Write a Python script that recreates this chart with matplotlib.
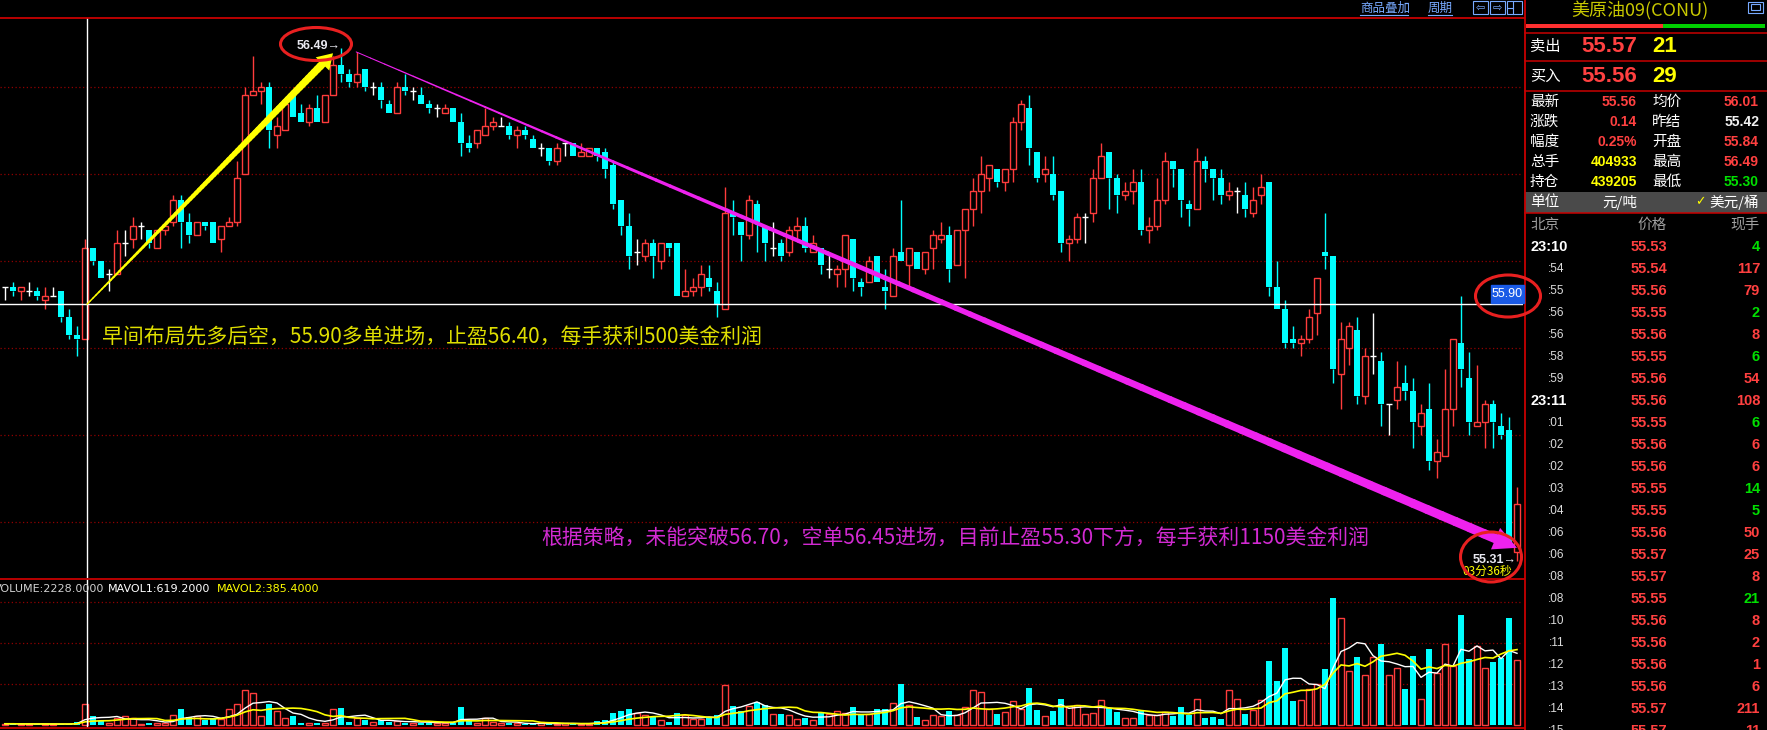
import numpy as np
import pandas as pd
import matplotlib
matplotlib.use('Agg')
import matplotlib.pyplot as plt
from matplotlib.collections import LineCollection
from matplotlib.patches import Ellipse, Rectangle

plt.rcParams['font.family'] = ['Noto Sans CJK SC', 'DejaVu Sans']

# 1分钟K线 (开 高 低 收)
opens = [55.94, 55.94, 55.93, 55.93, 55.93, 55.91, 55.92, 55.93, 55.87, 55.83,
         55.82, 56.03, 56.00, 55.97, 55.97, 56.04, 56.05, 56.08, 56.07, 56.03,
         56.07, 56.09, 56.14, 56.09, 56.06, 56.09, 56.09, 56.05, 56.08, 56.09,
         56.20, 56.38, 56.39, 56.40, 56.29, 56.30, 56.38, 56.34, 56.32, 56.35,
         56.32, 56.38, 56.45, 56.43, 56.41, 56.44, 56.40, 56.40, 56.36, 56.34,
         56.40, 56.39, 56.38, 56.36, 56.35, 56.34, 56.35, 56.32, 56.27, 56.27,
         56.29, 56.31, 56.31, 56.31, 56.29, 56.30, 56.28, 56.26, 56.26, 56.23,
         56.27, 56.27, 56.24, 56.24, 56.26, 56.25, 56.22, 56.14, 56.08, 56.02,
         56.01, 56.04, 56.00, 56.04, 56.04, 55.92, 55.93, 55.94, 55.96, 55.93,
         55.89, 56.11, 56.09, 56.06, 56.13, 56.08, 56.03, 56.04, 56.02, 56.07,
         56.08, 56.02, 56.03, 55.98, 55.97, 55.98, 56.05, 55.95, 55.95, 56.01,
         55.94, 55.92, 56.02, 55.99, 56.02, 55.98, 56.03, 56.05, 56.06, 55.99,
         56.07, 56.12, 56.16, 56.19, 56.21, 56.18, 56.21, 56.32, 56.35, 56.25,
         56.20, 56.20, 56.16, 56.04, 56.05, 56.10, 56.11, 56.19, 56.25, 56.19,
         56.15, 56.16, 56.18, 56.07, 56.08, 56.14, 56.23, 56.21, 56.13, 56.12,
         56.23, 56.21, 56.19, 56.15, 56.16, 56.15, 56.11, 56.15, 56.18, 55.94,
         55.89, 55.82, 55.81, 55.82, 55.88, 56.02, 56.01, 55.74, 55.80, 55.84,
         55.69, 55.78, 55.77, 55.67, 55.68, 55.72, 55.70, 55.62, 55.66, 55.54,
         55.55, 55.66, 55.81, 55.73, 55.62, 55.63, 55.67, 55.62, 55.61, 55.33]
highs = [55.94, 55.95, 55.94, 55.95, 55.94, 55.94, 55.94, 55.93, 55.89, 55.85,
         56.05, 56.03, 56.00, 55.98, 56.07, 56.07, 56.10, 56.09, 56.07, 56.07,
         56.09, 56.15, 56.15, 56.11, 56.09, 56.09, 56.09, 56.08, 56.10, 56.23,
         56.40, 56.47, 56.41, 56.41, 56.33, 56.37, 56.39, 56.36, 56.36, 56.38,
         56.38, 56.47, 56.49, 56.44, 56.48, 56.44, 56.41, 56.41, 56.37, 56.41,
         56.43, 56.40, 56.40, 56.37, 56.36, 56.36, 56.35, 56.34, 56.29, 56.30,
         56.35, 56.33, 56.33, 56.32, 56.31, 56.31, 56.29, 56.27, 56.26, 56.27,
         56.27, 56.27, 56.27, 56.26, 56.26, 56.26, 56.23, 56.14, 56.11, 56.05,
         56.05, 56.05, 56.04, 56.04, 56.04, 55.98, 55.96, 55.99, 55.99, 55.95,
         56.17, 56.14, 56.09, 56.15, 56.14, 56.08, 56.09, 56.05, 56.08, 56.10,
         56.10, 56.06, 56.03, 56.02, 55.99, 56.06, 56.05, 55.96, 56.01, 56.01,
         55.98, 56.03, 56.14, 56.03, 56.02, 56.02, 56.07, 56.09, 56.08, 56.07,
         56.12, 56.19, 56.24, 56.22, 56.21, 56.21, 56.33, 56.37, 56.38, 56.25,
         56.24, 56.24, 56.16, 56.06, 56.11, 56.11, 56.21, 56.27, 56.25, 56.20,
         56.18, 56.21, 56.21, 56.10, 56.19, 56.25, 56.23, 56.21, 56.14, 56.26,
         56.24, 56.21, 56.21, 56.18, 56.17, 56.18, 56.17, 56.20, 56.18, 56.00,
         55.91, 55.85, 55.83, 55.89, 55.96, 56.11, 56.01, 55.86, 55.86, 55.87,
         55.80, 55.88, 55.79, 55.67, 55.77, 55.76, 55.73, 55.67, 55.72, 55.59,
         55.75, 55.82, 55.92, 55.79, 55.76, 55.68, 55.68, 55.65, 55.64, 55.48]
lows = [55.91, 55.92, 55.91, 55.92, 55.91, 55.89, 55.92, 55.86, 55.82, 55.78,
        55.82, 55.99, 55.96, 55.93, 55.97, 56.01, 56.03, 56.05, 56.03, 56.03,
        56.06, 56.08, 56.03, 56.04, 56.06, 56.07, 56.04, 56.02, 56.08, 56.08,
        56.20, 56.38, 56.36, 56.26, 56.26, 56.30, 56.33, 56.32, 56.31, 56.32,
        56.32, 56.38, 56.41, 56.40, 56.40, 56.39, 56.38, 56.35, 56.34, 56.34,
        56.38, 56.37, 56.36, 56.34, 56.33, 56.34, 56.32, 56.24, 56.25, 56.26,
        56.29, 56.30, 56.31, 56.28, 56.26, 56.28, 56.26, 56.24, 56.22, 56.22,
        56.24, 56.24, 56.24, 56.24, 56.23, 56.19, 56.12, 56.06, 55.98, 55.99,
        56.00, 55.96, 55.98, 56.01, 55.92, 55.92, 55.92, 55.92, 55.93, 55.87,
        55.89, 56.06, 56.00, 56.05, 56.02, 56.00, 56.01, 56.00, 56.01, 56.05,
        56.02, 56.02, 55.97, 55.96, 55.94, 55.94, 55.93, 55.92, 55.95, 55.95,
        55.89, 55.92, 56.00, 55.94, 55.98, 55.97, 55.98, 56.04, 55.95, 55.99,
        55.96, 56.08, 56.11, 56.16, 56.17, 56.16, 56.18, 56.30, 56.22, 56.18,
        56.18, 56.14, 56.02, 56.00, 56.04, 56.04, 56.09, 56.19, 56.12, 56.11,
        56.14, 56.13, 56.06, 56.04, 56.07, 56.13, 56.17, 56.10, 56.08, 56.12,
        56.18, 56.14, 56.13, 56.14, 56.11, 56.10, 56.10, 56.13, 55.92, 55.89,
        55.80, 55.80, 55.78, 55.81, 55.83, 55.98, 55.72, 55.66, 55.76, 55.67,
        55.67, 55.74, 55.62, 55.60, 55.66, 55.68, 55.57, 55.60, 55.52, 55.50,
        55.55, 55.62, 55.71, 55.60, 55.62, 55.57, 55.57, 55.59, 55.34, 55.31]
closes = [55.94, 55.93, 55.94, 55.93, 55.92, 55.92, 55.92, 55.87, 55.83, 55.82,
          56.03, 56.00, 55.96, 55.97, 56.04, 56.04, 56.08, 56.08, 56.04, 56.07,
          56.08, 56.14, 56.09, 56.06, 56.09, 56.08, 56.04, 56.08, 56.09, 56.19,
          56.38, 56.39, 56.40, 56.30, 56.31, 56.36, 56.33, 56.32, 56.35, 56.32,
          56.38, 56.45, 56.43, 56.41, 56.43, 56.40, 56.40, 56.37, 56.34, 56.40,
          56.39, 56.39, 56.36, 56.35, 56.35, 56.35, 56.32, 56.27, 56.26, 56.30,
          56.31, 56.32, 56.31, 56.29, 56.30, 56.29, 56.26, 56.26, 56.23, 56.26,
          56.27, 56.24, 56.25, 56.26, 56.24, 56.21, 56.13, 56.08, 56.01, 56.02,
          56.04, 56.01, 56.04, 56.03, 55.92, 55.93, 55.94, 55.97, 55.94, 55.90,
          56.11, 56.10, 56.06, 56.14, 56.09, 56.04, 56.03, 56.01, 56.07, 56.08,
          56.03, 56.04, 55.99, 55.98, 55.98, 56.06, 55.96, 55.94, 56.00, 55.95,
          55.93, 56.01, 56.00, 56.03, 55.98, 56.02, 56.06, 56.06, 55.98, 56.07,
          56.12, 56.16, 56.20, 56.22, 56.18, 56.21, 56.32, 56.36, 56.26, 56.19,
          56.21, 56.15, 56.04, 56.05, 56.10, 56.10, 56.19, 56.24, 56.19, 56.15,
          56.16, 56.18, 56.07, 56.08, 56.14, 56.23, 56.21, 56.14, 56.12, 56.23,
          56.21, 56.19, 56.15, 56.16, 56.16, 56.12, 56.14, 56.17, 55.94, 55.89,
          55.81, 55.81, 55.82, 55.87, 55.96, 56.01, 55.75, 55.82, 55.85, 55.69,
          55.78, 55.78, 55.67, 55.67, 55.71, 55.70, 55.63, 55.65, 55.54, 55.56,
          55.66, 55.82, 55.75, 55.63, 55.63, 55.67, 55.63, 55.60, 55.34, 55.44]
volumes = [30, 30, 20, 30, 20, 20, 20, 20, 30, 80,
           500, 210, 90, 60, 180, 210, 180, 20, 60, 50,
           50, 240, 380, 200, 210, 110, 160, 140, 390, 510,
           850, 770, 220, 510, 340, 180, 210, 60, 60, 60,
           60, 390, 420, 80, 180, 130, 70, 110, 80, 100,
           60, 60, 60, 60, 50, 50, 60, 440, 100, 60,
           170, 64, 40, 40, 40, 24, 24, 64, 24, 32,
           40, 32, 32, 32, 88, 112, 304, 352, 400, 288,
           232, 192, 112, 64, 304, 240, 136, 136, 160, 256,
           968, 472, 344, 472, 560, 496, 272, 280, 232, 152,
           160, 128, 296, 264, 344, 296, 448, 240, 264, 400,
           400, 544, 1000, 488, 184, 128, 256, 208, 352, 232,
           440, 856, 800, 384, 280, 328, 584, 384, 904, 376,
           208, 352, 640, 456, 488, 280, 304, 608, 408, 328,
           160, 160, 344, 256, 232, 320, 208, 448, 240, 640,
           168, 192, 144, 856, 640, 264, 376, 616, 1560, 1080,
           1872, 576, 600, 880, 1000, 1368, 3096, 2616, 1312, 1656,
           1216, 1656, 1968, 1216, 1384, 888, 1680, 640, 1848, 1272,
           1984, 1440, 2688, 1608, 1920, 1384, 1536, 1632, 2616, 1576]

price_grid = [55.4, 55.6, 55.8, 56.0, 56.2, 56.4]
vol_grid = [1000, 2000, 3000]
cross_x = 10.25
cross_price = 55.90
high_label = '56.49'
last_label = '55.31'

note_long = '早间布局先多后空，55.90多单进场，止盈56.40，每手获利500美金利润'
note_short = '根据策略，未能突破56.70，空单56.45进场，目前止盈55.30下方，每手获利1150美金利润'

# 右侧报价
quote_title = '美原油09(CONU)'
ask, ask_size = '55.57', '21'
bid, bid_size = '55.56', '29'
stat_left = [('最新', '55.56', 'r'), ('涨跌', '0.14', 'r'), ('幅度', '0.25%', 'r'),
             ('总手', '404933', 'y'), ('持仓', '439205', 'y')]
stat_right = [('均价', '56.01', 'r'), ('昨结', '55.42', 'w'), ('开盘', '55.84', 'r'),
              ('最高', '56.49', 'r'), ('最低', '55.30', 'g')]
tick_times = ['23:10', ':54', ':55', ':56', ':56', ':58', ':59', '23:11', ':01', ':02', ':02',
              ':03', ':04', ':06', ':06', ':08', ':08', ':10', ':11', ':12', ':13', ':14', ':15']
tick_prices = ['55.53', '55.54', '55.56', '55.55', '55.56', '55.55', '55.56', '55.56', '55.55',
               '55.56', '55.56', '55.55', '55.55', '55.56', '55.57', '55.57', '55.55', '55.56',
               '55.56', '55.56', '55.56', '55.57', '55.57']
tick_sizes = ['4', '117', '79', '2', '8', '6', '54', '108', '6', '6', '6', '14', '5', '50',
              '25', '8', '21', '8', '2', '1', '6', '211', '11']
tick_side = ['g', 'r', 'r', 'g', 'r', 'g', 'r', 'r', 'g', 'r', 'r', 'g', 'g', 'r', 'r', 'r',
             'g', 'r', 'r', 'r', 'r', 'r', 'r']

RED = '#ff3c3c'
CYAN = '#00ffff'
GRID = '#900000'
BORDER = '#c80000'
TXT = {'r': '#ff4040', 'y': '#ffff00', 'g': '#00e000', 'w': '#f0f0f0'}
NUM = 'Liberation Sans'

W, H = 1767, 730
fig = plt.figure(figsize=(W / 100, H / 100), dpi=100, facecolor='black')


def box(x0, y0, x1, y1):
    return [x0 / W, 1 - y1 / H, (x1 - x0) / W, (y1 - y0) / H]


ax = fig.add_axes(box(0, 18, 1523, 578))
axv = fig.add_axes(box(0, 579, 1523, 728))
for a in (ax, axv):
    a.set_facecolor('black')
    a.set_xlim(-0.625, 189.75)
    a.set_xticks([])
    a.set_yticks([])
    for s in a.spines.values():
        s.set_visible(False)
ax.set_ylim(55.2706, 56.558)
axv.set_ylim(-73, 3560)

o = np.array(opens)
h = np.array(highs)
l = np.array(lows)
c = np.array(closes)
x = np.arange(len(o))
up = c > o
dn = c < o
eq = c == o
col = np.where(up, RED, np.where(dn, CYAN, '#ffffff'))
top = np.maximum(o, c)
bot = np.minimum(o, c)

for p in price_grid:
    ax.axhline(p, color=GRID, lw=0.9, ls=(0, (1, 2)), zorder=0)
ax.vlines(x, top, h, colors=col, lw=1, zorder=2)
ax.vlines(x, l, bot, colors=col, lw=1, zorder=2)
ax.bar(x[up], (c - o)[up], bottom=o[up], width=0.68, facecolor='black',
       edgecolor=RED, lw=1, zorder=3)
ax.bar(x[dn], (o - c)[dn], bottom=c[dn], width=0.75, color=CYAN, lw=0, zorder=3)
ax.hlines(o[eq], x[eq] - 0.4, x[eq] + 0.4, colors='white', lw=1, zorder=3)

ax.axhline(cross_price, color='white', lw=1, zorder=4)
ax.axvline(cross_x, color='white', lw=1, zorder=4)
axv.axvline(cross_x, color='white', lw=1, zorder=4)

# 成交量
vol = np.array(volumes)
vup = c >= o
for g in vol_grid:
    axv.axhline(g, color=GRID, lw=0.9, ls=(0, (1, 2)), zorder=0)
axv.bar(x[vup], vol[vup], width=0.68, facecolor='black', edgecolor=RED, lw=1, zorder=2)
axv.bar(x[~vup], vol[~vup], width=0.75, color=CYAN, lw=0, zorder=2)
ma5 = pd.Series(vol).rolling(5, min_periods=1).mean()
ma10 = pd.Series(vol).rolling(10, min_periods=1).mean()
axv.plot(x, ma5, color='white', lw=1, zorder=3)
axv.plot(x, ma10, color='#ffff00', lw=1.2, zorder=3)


def taper(a, p0, p1, w0, w1, color, cut, hl, hw, ms, n=80):
    p0 = np.array(p0, float)
    p1 = np.array(p1, float)
    base = p0 + (p1 - p0) * cut
    t = np.linspace(0, 1, n + 1)[:, None]
    pts = p0 + (base - p0) * t
    segs = np.stack([pts[:-1], pts[1:]], axis=1)
    a.add_collection(LineCollection(segs, linewidths=np.linspace(w0, w1, n),
                                    colors=color, capstyle='round', zorder=6))
    a.annotate('', xy=tuple(p1), xytext=tuple(base),
               arrowprops=dict(arrowstyle=f'-|>,head_length={hl},head_width={hw}',
                               color=color, lw=0, mutation_scale=ms,
                               shrinkA=0, shrinkB=0), zorder=7)


# 黄色箭头 (做多) 与 紫色箭头 (做空)
taper(ax, (cross_x, cross_price), (41.0, 56.477), 1.0, 5.5, '#ffff00', 0.96, 0.6, 0.38, 18)
taper(ax, (43.9, 56.48), (189.0, 55.34), 0.7, 6.8, '#ee22ee', 0.984, 0.6, 0.3, 28)

# 覆盖层 (像素坐标)
ov = fig.add_axes([0, 0, 1, 1], zorder=5)
ov.set_xlim(0, W)
ov.set_ylim(H, 0)
ov.axis('off')
ov.patch.set_alpha(0)

# 边框
ov.plot([0, 1524], [18, 18], color=BORDER, lw=1.3)
ov.plot([0, 1524], [578.5, 578.5], color=BORDER, lw=1.3)
ov.plot([0, 1524], [728, 728], color=BORDER, lw=1.3)
ov.plot([1524.5, 1524.5], [0, H], color=BORDER, lw=1.3)

ov.text(102, 338, note_long, color='#dede00', fontsize=15, va='center', ha='left')
ov.text(541, 538, note_short, color='#d22ad2', fontsize=15, va='center', ha='left')

ov.text(297, 46, high_label + '→', color='#e8e8f0', fontsize=9, va='center', ha='left',
        family=[NUM, 'DejaVu Sans'], weight='bold')
ov.text(1473, 560, last_label + '→', color='#e8e8f0', fontsize=9, va='center', ha='left',
        family=[NUM, 'DejaVu Sans'], weight='bold')
ov.text(1462, 571, '03分36秒', color='#ffff00', fontsize=8.5, va='center', ha='left')

ov.add_patch(Rectangle((1491, 285), 33, 18, color='#1a5ae6', zorder=6))
ov.text(1507.5, 294, '55.90', color='white', fontsize=9, va='center', ha='center',
        family=NUM, zorder=7)

ov.text(104, 589, 'VOLUME:2228.0000', color='#d0d0d0', fontsize=8, va='center', ha='right',
        family='DejaVu Sans')
ov.text(108, 589, 'MAVOL1:619.2000', color='white', fontsize=8, va='center', ha='left',
        family='DejaVu Sans')
ov.text(217, 589, 'MAVOL2:385.4000', color='#ffff00', fontsize=8, va='center', ha='left',
        family='DejaVu Sans')

# 顶部按钮
LB = '#78aaff'
ov.text(1360, 8, '商品叠加', color=LB, fontsize=9, va='center', ha='left')
ov.plot([1360, 1408], [15, 15], color=LB, lw=0.8)
ov.text(1428, 8, '周期', color=LB, fontsize=9, va='center', ha='left')
ov.plot([1428, 1452], [15, 15], color=LB, lw=0.8)
for bx, sym in [(1473, '⇦'), (1490, '⇨'), (1507, '')]:
    ov.add_patch(Rectangle((bx, 1), 15, 13, fill=False, edgecolor=LB, lw=0.8))
    ov.text(bx + 7.5, 8, sym, color=LB, fontsize=8, va='center', ha='center', family='DejaVu Sans')
ov.plot([1513, 1513], [2, 14], color=LB, lw=0.8)
ov.plot([1508, 1513], [8, 8], color=LB, lw=0.8)

# 右侧报价面板
ov.text(1640, 11, quote_title, color='#c8c800', fontsize=13, va='center', ha='center')
ov.add_patch(Rectangle((1748, 2), 15, 11, fill=False, edgecolor=LB, lw=0.8))
ov.add_patch(Rectangle((1751, 4), 9, 6, fill=False, edgecolor=LB, lw=0.8))
ov.add_patch(Rectangle((1526, 24), 137, 4, color='#ff3030', lw=0))
ov.add_patch(Rectangle((1663, 24), 102, 4, color='#00d000', lw=0))
for yy in [33, 61, 91, 213]:
    ov.plot([1525, W], [yy, yy], color=BORDER, lw=1.1)
ov.add_patch(Rectangle((1525, 192), W - 1525, 21, color='#4a4a4a', lw=0))

for yy, lab, pr, sz in [(46, '卖出', ask, ask_size), (76, '买入', bid, bid_size)]:
    ov.text(1530, yy, lab, color='white', fontsize=11, va='center', ha='left')
    ov.text(1637, yy, pr, color=TXT['r'], fontsize=16, va='center', ha='right',
            family=NUM, weight='bold')
    ov.text(1652, yy, sz, color=TXT['y'], fontsize=16, va='center', ha='left',
            family=NUM, weight='bold')

for k, ((la, va_, ca), (lb, vb, cb)) in enumerate(zip(stat_left, stat_right)):
    yy = 102 + 20 * k
    ov.text(1530, yy, la, color='white', fontsize=10.5, va='center', ha='left')
    ov.text(1637, yy, va_, color=TXT[ca], fontsize=10, va='center', ha='right',
            family=NUM, weight='bold')
    ov.text(1652, yy, lb, color='white', fontsize=10.5, va='center', ha='left')
    ov.text(1759, yy, vb, color=TXT[cb], fontsize=10, va='center', ha='right',
            family=NUM, weight='bold')

ov.text(1530, 202, '单位', color='white', fontsize=10.5, va='center', ha='left')
ov.text(1637, 202, '元/吨', color='white', fontsize=10.5, va='center', ha='right')
ov.text(1700, 202, '✓', color='#ffff00', fontsize=9, va='center', ha='center',
        family='DejaVu Sans', weight='bold')
ov.text(1759, 202, '美元/桶', color='white', fontsize=10.5, va='center', ha='right')

ov.text(1530, 225, '北京', color='#a0a0a0', fontsize=10.5, va='center', ha='left')
ov.text(1667, 225, '价格', color='#a0a0a0', fontsize=10.5, va='center', ha='right')
ov.text(1760, 225, '现手', color='#a0a0a0', fontsize=10.5, va='center', ha='right')

for k, (tt, tp, ts, sd) in enumerate(zip(tick_times, tick_prices, tick_sizes, tick_side)):
    yy = 247 + 22 * k
    if tt.startswith(':'):
        ov.text(1564, yy, tt, color='#dcdcdc', fontsize=8.5, va='center', ha='right',
                family=NUM)
    else:
        ov.text(1530, yy, tt, color='white', fontsize=10.5, va='center', ha='left',
                family=NUM, weight='bold')
    ov.text(1667, yy, tp, color=TXT['r'], fontsize=10.5, va='center', ha='right',
            family=NUM, weight='bold')
    ov.text(1760, yy, ts, color=TXT[sd], fontsize=10.5, va='center', ha='right',
            family=NUM, weight='bold')

# 红色圈注
for cx, cy, ew, eh in [(316, 44, 71, 33), (1508, 296, 65, 42), (1491, 557, 61, 50)]:
    ov.add_patch(Ellipse((cx, cy), ew, eh, fill=False, edgecolor='#e82020', lw=2.2, zorder=8))

fig.savefig('out.png', dpi=100, facecolor='black')
